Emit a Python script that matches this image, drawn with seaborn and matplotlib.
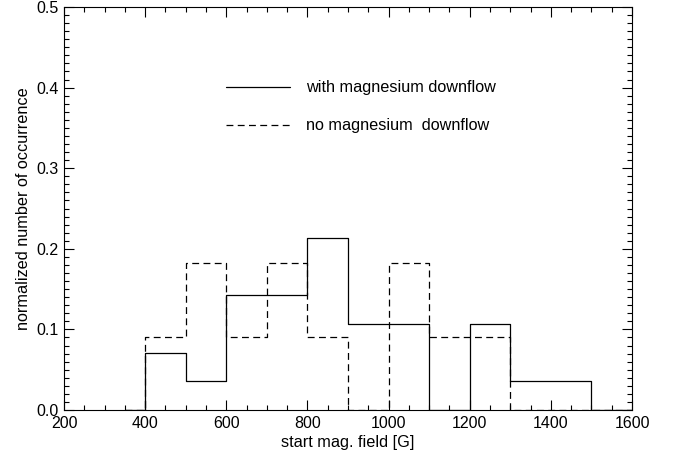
import numpy as np
import matplotlib
matplotlib.use("Agg")
import matplotlib.pyplot as plt
import seaborn as sns
from matplotlib.ticker import MultipleLocator

# bin edges of the field-strength histogram [G]
edges = [350, 400, 500, 600, 700, 800, 900, 1000, 1100, 1200, 1300, 1400, 1500, 1600]
# normalized occurrence per bin
with_downflow = [0.0, 0.071, 0.036, 0.143, 0.143, 0.214, 0.107, 0.107, 0.0, 0.107, 0.036, 0.036, 0.0]
no_downflow = [0.0, 0.091, 0.182, 0.091, 0.182, 0.091, 0.0, 0.182, 0.091, 0.091, 0.0, 0.0, 0.0]

sns.set_style("ticks")
plt.rcParams['font.family'] = ['Liberation Sans', 'DejaVu Sans']
plt.rcParams['xtick.direction'] = 'in'
plt.rcParams['ytick.direction'] = 'in'
plt.rcParams['text.color'] = 'black'
plt.rcParams['axes.labelcolor'] = 'black'

fig = plt.figure(figsize=(6.76, 4.53), dpi=100)
ax = fig.add_axes([0.0947, 0.0949, 0.8403, 0.8896])

centers = [(a + b) / 2 for a, b in zip(edges[:-1], edges[1:])]

sns.histplot(x=centers, weights=with_downflow, bins=edges, element="step",
             fill=False, color="black", linewidth=0.9, ax=ax,
             label="with magnesium downflow")
sns.histplot(x=centers, weights=no_downflow, bins=edges, element="step",
             fill=False, color="black", linewidth=0.9, linestyle=(0, (5.5, 3.5)),
             ax=ax, label="no magnesium  downflow")

ax.set_xlim(200, 1600)
ax.set_ylim(0, 0.5)
ax.xaxis.set_major_locator(MultipleLocator(200))
ax.xaxis.set_minor_locator(MultipleLocator(50))
ax.yaxis.set_major_locator(MultipleLocator(0.1))
ax.yaxis.set_minor_locator(MultipleLocator(0.01))
ax.yaxis.set_major_formatter(plt.FormatStrFormatter('%.1f'))
ax.tick_params(which='both', top=True, right=True, colors='black', labelsize=11.5, width=0.8)
ax.tick_params(which='major', length=7, pad=4)
ax.tick_params(which='minor', length=3.5)
for s in ax.spines.values():
    s.set_linewidth(0.8)
    s.set_color('black')

ax.set_xlabel("start mag. field [G]", fontsize=11.7, labelpad=3)
ax.set_ylabel("normalized number of occurrence", fontsize=11.7, labelpad=4)

ax.legend(loc="upper left", bbox_to_anchor=(0.285, 0.818), frameon=False,
          borderaxespad=0, borderpad=0, fontsize=11.7, handlelength=3.94,
          handletextpad=1.0, labelspacing=1.42)

fig.savefig("out.png", dpi=100)
